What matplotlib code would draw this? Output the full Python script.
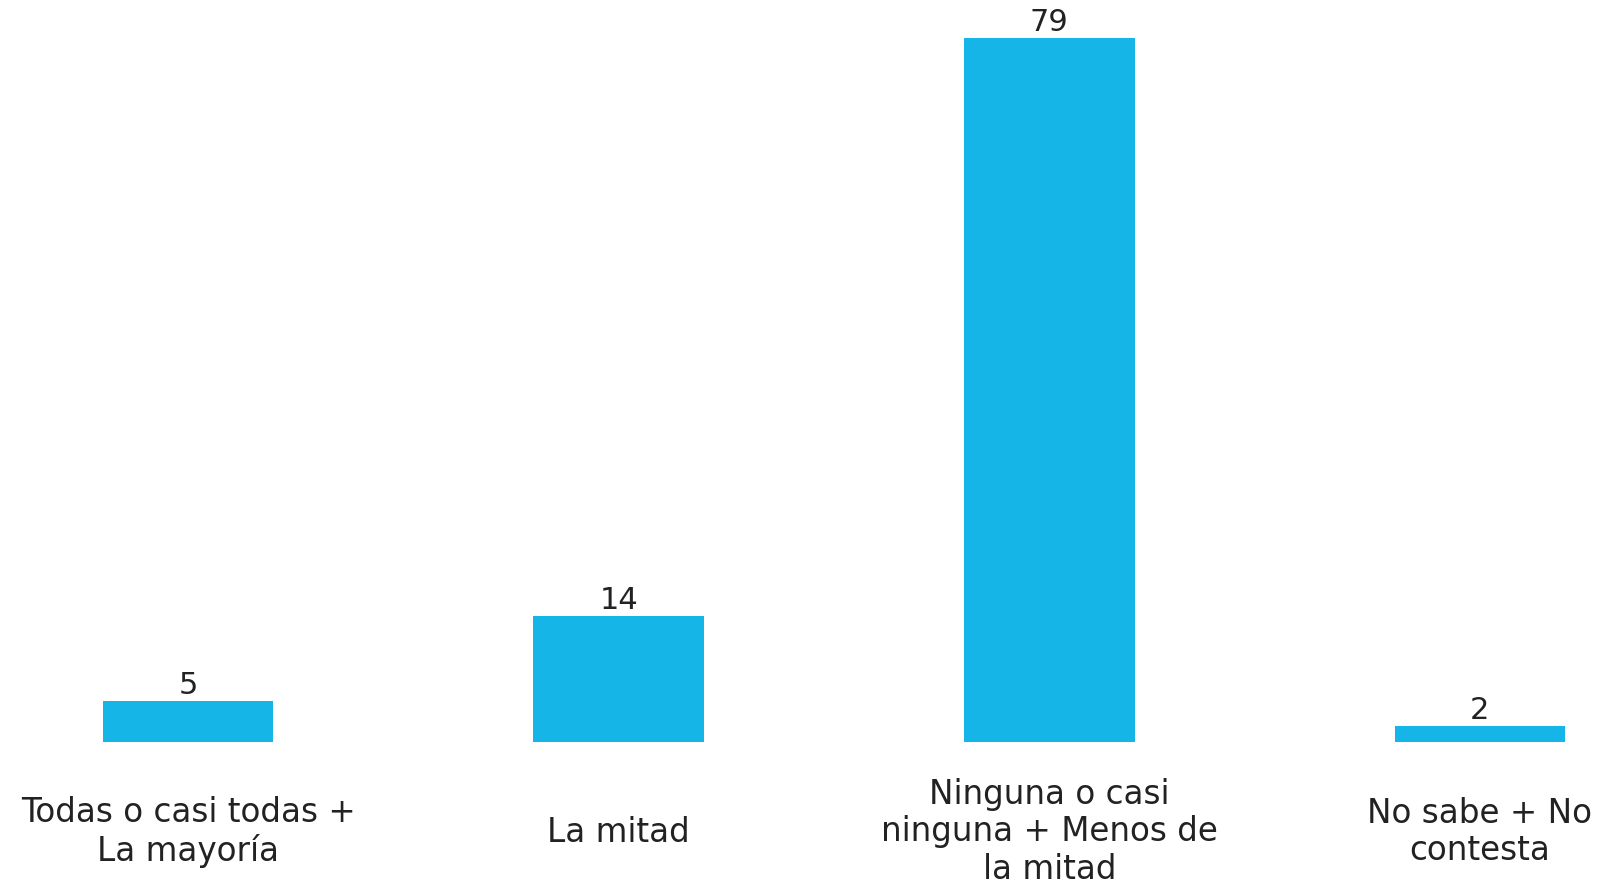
import matplotlib.pyplot as plt

# data
categories = ["Todas o casi todas +\nLa mayoría", "La mitad",
              "Ninguna o casi\nninguna + Menos de\nla mitad", "No sabe + No\ncontesta"]
values = [4.6, 14.1, 79, 1.8]          # bar heights as drawn
value_labels = ["5", "14", "79", "2"]  # rounded labels as printed

bar_color = "#15B5E7"
text_color = "#222222"

plt.rcParams['font.family'] = ['DejaVu Sans']

fig = plt.figure(figsize=(16.16, 8.86), dpi=100)
ax = fig.add_axes([0, 144 / 886, 1, 757.5 / 886])

x = range(len(categories))
ax.bar(x, values, width=0.396, color=bar_color)
ax.set_xlim(-0.437, 3.316)
ax.set_ylim(0, 85)
ax.axis("off")

for i, (v, lab) in enumerate(zip(values, value_labels)):
    ax.annotate(lab, xy=(i, v), xytext=(0, 1), textcoords="offset pixels",
                ha="center", va="bottom", fontsize=22, color=text_color)

for i, cat in enumerate(categories):
    ax.annotate(cat, xy=(i, 0), xytext=(0, -90), textcoords="offset pixels",
                ha="center", va="center", fontsize=23.5, color=text_color,
                linespacing=1.17, annotation_clip=False)

fig.savefig("out.png", dpi=100)
